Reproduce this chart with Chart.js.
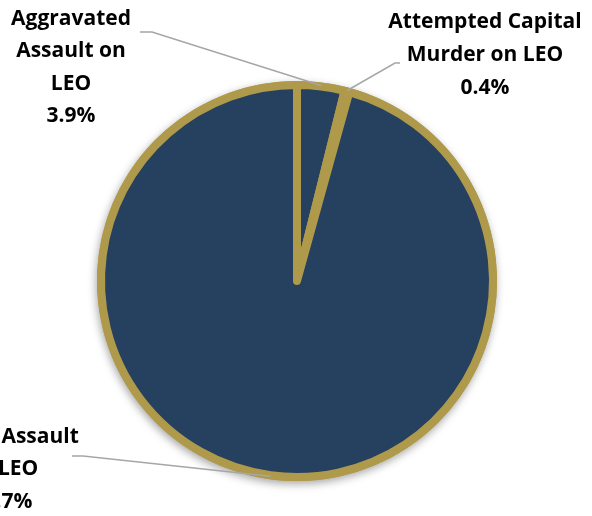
<!DOCTYPE html>
<html>
<head>
<meta charset="utf-8">
<script src="https://cdn.jsdelivr.net/npm/chart.js@4"></script>
<style>
  html, body { margin: 0; padding: 0; background: #ffffff; }
  #wrap { width: 592px; height: 516px; position: relative; }
</style>
</head>
<body>
<div id="wrap"><canvas id="c" width="592" height="516"></canvas></div>
<script>
// ---- data ----
const categories = ["Aggravated Assault on LEO", "Attempted Capital Murder on LEO", "Simple Assault on LEO"];
const values = [3.9, 0.4, 95.7];
const labelLines = [
  ["Aggravated", "Assault on", "LEO"],
  ["Attempted Capital", "Murder on LEO"],
  ["Simple Assault", "on LEO"]
];

// ---- styles ----
const NAVY = "#26405F";
const GOLD = "#AF9A4B";
const LEADER = "#A6A6A6";
const FONT = "bold 21px 'Open Sans', sans-serif";

// label placement (text centre x, first line centre y, line step, leader start, elbow)
const labelPlace = [
  { x: 71,  y: 19,  step: 32.5, start: [140, 32], elbow: [152, 32] },
  { x: 485, y: 22,  step: 33,   start: [400, 63], elbow: [395, 63] },
  { x: 2,   y: 437, step: 32.5, start: [72, 456], elbow: [83, 456] }
];

const shadowPlugin = {
  id: "pieShadow",
  beforeDatasetsDraw(chart) {
    const arc = chart.getDatasetMeta(0).data[0];
    if (!arc) return;
    const { x, y, outerRadius } = arc.getProps(["x", "y", "outerRadius"], true);
    const ctx = chart.ctx;
    ctx.save();
    ctx.shadowColor = "rgba(0,0,0,0.35)";
    ctx.shadowBlur = 9;
    ctx.shadowOffsetX = -1;
    ctx.shadowOffsetY = 3;
    ctx.beginPath();
    ctx.arc(x, y, outerRadius + 4, 0, Math.PI * 2);
    ctx.fillStyle = GOLD;
    ctx.fill();
    ctx.restore();
  }
};

const labelPlugin = {
  id: "calloutLabels",
  afterDatasetsDraw(chart) {
    const ctx = chart.ctx;
    const meta = chart.getDatasetMeta(0);
    meta.data.forEach((arc, i) => {
      const p = arc.getProps(["x", "y", "startAngle", "endAngle", "outerRadius"], true);
      const mid = (p.startAngle + p.endAngle) / 2;
      const r = p.outerRadius + 1;
      const ex = p.x + Math.cos(mid) * r;
      const ey = p.y + Math.sin(mid) * r;
      const L = labelPlace[i];
      ctx.save();
      ctx.strokeStyle = LEADER;
      ctx.lineWidth = 1.5;
      ctx.beginPath();
      ctx.moveTo(L.start[0], L.start[1]);
      ctx.lineTo(L.elbow[0], L.elbow[1]);
      ctx.lineTo(ex, ey);
      ctx.stroke();
      ctx.fillStyle = "#000000";
      ctx.font = FONT;
      ctx.textAlign = "center";
      ctx.textBaseline = "middle";
      const lines = labelLines[i].concat([values[i].toFixed(1) + "%"]);
      lines.forEach((t, k) => ctx.fillText(t, L.x, L.y + k * L.step));
      ctx.restore();
    });
  }
};

new Chart(document.getElementById("c"), {
  type: "pie",
  data: {
    labels: categories,
    datasets: [{
      data: values,
      backgroundColor: NAVY,
      borderColor: GOLD,
      borderWidth: 8,
      borderJoinStyle: "round",
      borderAlign: "center"
    }]
  },
  options: {
    responsive: false,
    animation: false,
    events: [],
    layout: { padding: { left: 97, right: 95, top: 81, bottom: 35 } },
    plugins: {
      legend: { display: false },
      tooltip: { enabled: false },
      title: { display: false }
    }
  },
  plugins: [shadowPlugin, labelPlugin]
});
</script>
</body>
</html>
